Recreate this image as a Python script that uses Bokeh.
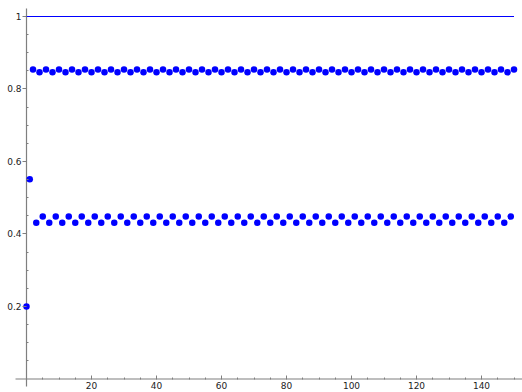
from bokeh.plotting import figure
from bokeh.models import FixedTicker, Range1d
from bokeh.embed import file_html
from bokeh.resources import INLINE

# step index and orbit values
steps = list(range(151))
orbit = [
    0.200, 0.551,
    0.854, 0.431, 0.846, 0.448, 0.854, 0.431, 0.846, 0.448,
    0.854, 0.431, 0.846, 0.448, 0.854, 0.431, 0.846, 0.448,
    0.854, 0.431, 0.846, 0.448, 0.854, 0.431, 0.846, 0.448,
    0.854, 0.431, 0.846, 0.448, 0.854, 0.431, 0.846, 0.448,
    0.854, 0.431, 0.846, 0.448, 0.854, 0.431, 0.846, 0.448,
    0.854, 0.431, 0.846, 0.448, 0.854, 0.431, 0.846, 0.448,
    0.854, 0.431, 0.846, 0.448, 0.854, 0.431, 0.846, 0.448,
    0.854, 0.431, 0.846, 0.448, 0.854, 0.431, 0.846, 0.448,
    0.854, 0.431, 0.846, 0.448, 0.854, 0.431, 0.846, 0.448,
    0.854, 0.431, 0.846, 0.448, 0.854, 0.431, 0.846, 0.448,
    0.854, 0.431, 0.846, 0.448, 0.854, 0.431, 0.846, 0.448,
    0.854, 0.431, 0.846, 0.448, 0.854, 0.431, 0.846, 0.448,
    0.854, 0.431, 0.846, 0.448, 0.854, 0.431, 0.846, 0.448,
    0.854, 0.431, 0.846, 0.448, 0.854, 0.431, 0.846, 0.448,
    0.854, 0.431, 0.846, 0.448, 0.854, 0.431, 0.846, 0.448,
    0.854, 0.431, 0.846, 0.448, 0.854, 0.431, 0.846, 0.448,
    0.854, 0.431, 0.846, 0.448, 0.854, 0.431, 0.846, 0.448,
    0.854, 0.431, 0.846, 0.448, 0.854, 0.431, 0.846, 0.448,
    0.854, 0.431, 0.846, 0.448,
    0.854,
]
ref_x = [0, 150]
ref_y = [1, 1]

x_major = [20, 40, 60, 80, 100, 120, 140]
x_minor = [5, 10, 15, 25, 30, 35, 45, 50, 55, 65, 70, 75, 85, 90, 95,
           105, 110, 115, 125, 130, 135, 145, 150]
y_major = [0.2, 0.4, 0.6, 0.8, 1.0]
y_labels = {1.0: "1"}
y_minor = [0.05, 0.1, 0.15, 0.25, 0.3, 0.35, 0.45, 0.5, 0.55, 0.65, 0.7,
           0.75, 0.85, 0.9, 0.95]

# visible extent of the axis lines (data units)
x_axis_extent = (-3.385, 152.6)
y_axis_extent = (-0.0207, 1.0221)

p = figure(width=522, height=392, output_backend="svg", toolbar_location=None,
           x_range=Range1d(-8.0, 152.615), y_range=Range1d(-0.03724, 1.0441),
           min_border_left=0, min_border_right=0, min_border_top=0,
           min_border_bottom=0)
p.background_fill_color = "white"
p.border_fill_color = "white"
p.outline_line_color = None
p.grid.visible = False

# axis lines drawn over their Sage-style extent
p.segment(x0=[x_axis_extent[0]], y0=[0], x1=[x_axis_extent[1]], y1=[0],
          line_color="#7f7f7f", line_width=1.2)
p.segment(x0=[0], y0=[y_axis_extent[0]], x1=[0], y1=[y_axis_extent[1]],
          line_color="#7f7f7f", line_width=1.2)

p.line(ref_x, ref_y, line_color="#0000ff", line_width=1.2)
p.scatter(steps, orbit, size=6.5, fill_color="#0000ff", line_color="#0000ff",
          line_width=0)

for ax in (p.xaxis[0], p.yaxis[0]):
    ax.fixed_location = 0
    ax.axis_line_color = None
    ax.major_tick_line_color = "#7f7f7f"
    ax.minor_tick_line_color = "#7f7f7f"
    ax.major_label_text_font = "DejaVu Sans"
    ax.major_label_text_font_size = "9px"
    ax.major_label_text_color = "#222222"

p.xaxis.ticker = FixedTicker(ticks=x_major, minor_ticks=x_minor)
p.xaxis.major_tick_in = 4
p.xaxis.major_tick_out = 0
p.xaxis.minor_tick_in = 2
p.xaxis.minor_tick_out = 0
p.xaxis.major_label_standoff = 3

p.yaxis.ticker = FixedTicker(ticks=y_major, minor_ticks=y_minor)
p.yaxis.major_label_overrides = y_labels
p.yaxis.major_tick_in = 0
p.yaxis.major_tick_out = 4
p.yaxis.minor_tick_in = 2
p.yaxis.minor_tick_out = 0
p.yaxis.major_label_standoff = 1

open("out.html", "w").write(file_html(p, INLINE))
